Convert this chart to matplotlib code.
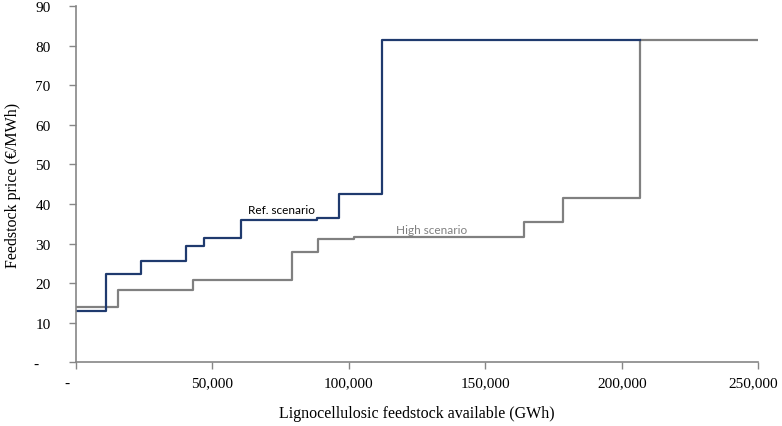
import matplotlib
matplotlib.use("Agg")
import matplotlib.pyplot as plt
import matplotlib.transforms as mtrans
from matplotlib.ticker import FuncFormatter

# step curves: x = start of each step (GWh), y = price on that step (EUR/MWh)
ref_x = [0, 11000, 23900, 40300, 47000, 60600, 88200, 96600, 112100, 206700]
ref_y = [13.0, 22.2, 25.5, 29.3, 31.3, 36.0, 36.4, 42.4, 81.5, 81.5]

high_x = [0, 15400, 42800, 79300, 88600, 102000, 164100, 178500, 206700, 250000]
high_y = [14.0, 18.2, 20.8, 28.0, 31.2, 31.6, 35.5, 41.5, 81.5, 81.5]

x_ticks = [0, 50000, 100000, 150000, 200000, 250000]
y_ticks = [0, 10, 20, 30, 40, 50, 60, 70, 80, 90]

navy = "#1f3a6e"
grey = "#808080"
axis_grey = "#868686"

plt.rcParams["font.family"] = ["Liberation Serif", "DejaVu Serif"]

fig = plt.figure(figsize=(7.82, 4.27), dpi=100)
ax = fig.add_axes([0.0968, 0.149, 0.873, 0.8346])

ax.step(high_x, high_y, where="post", color=grey, lw=1.6)
ax.step(ref_x, ref_y, where="post", color=navy, lw=1.6)

ax.text(75500, 38.6, "Ref. scenario", fontsize=8.5, family=["Lato", "DejaVu Sans"],
        color="black", ha="center", va="center")
ax.text(130300, 33.5, "High scenario", fontsize=8.5, family=["Lato", "DejaVu Sans"],
        color=grey, ha="center", va="center")

ax.set_xlim(0, 250000)
ax.set_ylim(0, 90)
ax.set_xticks(x_ticks)
ax.set_yticks(y_ticks)
ax.xaxis.set_major_formatter(FuncFormatter(lambda v, p: "-    " if v == 0 else f"{int(v):,}"))
ax.yaxis.set_major_formatter(FuncFormatter(lambda v, p: "-   " if v == 0 else f"{int(v)}"))

for s in ["top", "right"]:
    ax.spines[s].set_visible(False)
for s in ["left", "bottom"]:
    ax.spines[s].set_color(axis_grey)
    ax.spines[s].set_linewidth(1.2)

ax.tick_params(axis="both", colors=axis_grey, labelcolor="black", length=5,
               width=1.0, labelsize=11)
ax.tick_params(axis="y", pad=13)
ax.tick_params(axis="x", pad=5)

# last x label sits against the right edge, nudge it in a bit
last = ax.xaxis.get_major_ticks()[-1].label1
last.set_transform(last.get_transform() + mtrans.ScaledTranslation(-4 / 72, 0, fig.dpi_scale_trans))

ax.set_xlabel("Lignocellulosic feedstock available (GWh)", fontsize=11.5, labelpad=11)
ax.set_ylabel("Feedstock price (\u20ac/MWh)", fontsize=11.5, labelpad=9)

fig.savefig("out.png", dpi=100)
